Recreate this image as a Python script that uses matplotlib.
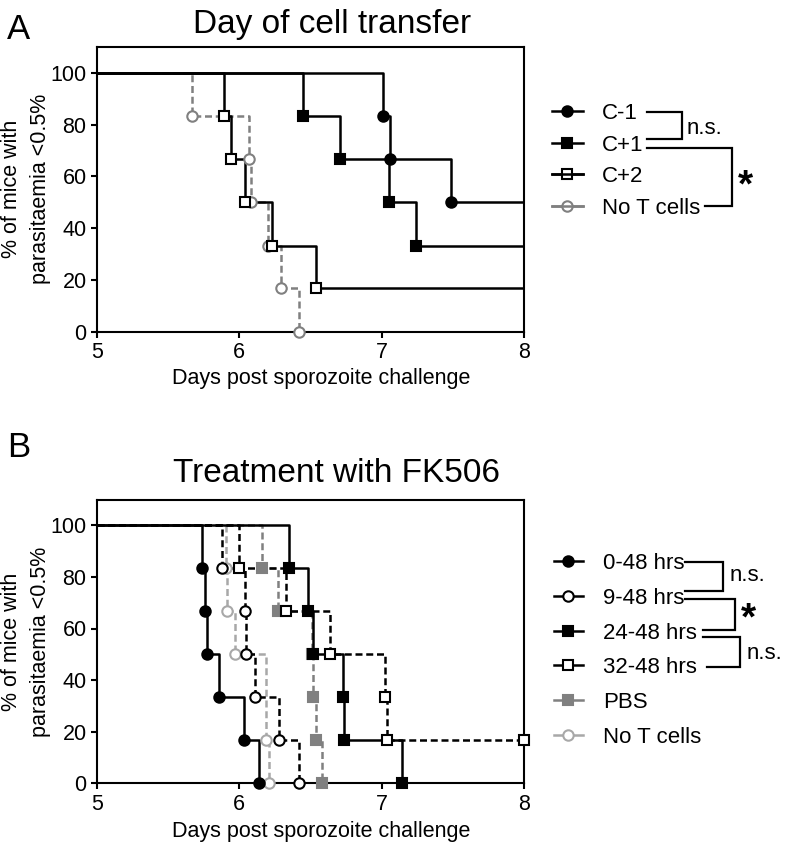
import matplotlib
matplotlib.use("Agg")
import matplotlib.pyplot as plt

plt.rcParams['font.family'] = ['Liberation Sans', 'DejaVu Sans']

# ---------------- data ----------------
x_ticks = [5, 6, 7, 8]
y_ticks = [0, 20, 40, 60, 80, 100]
x_label = "Days post sporozoite challenge"
y_label = "% of mice with\nparasitaemia <0.5%"

# Panel A: Day of cell transfer
a_title = "Day of cell transfer"
a_names = ["C-1", "C+1", "C+2", "No T cells"]
a_c_m1_t = [7.01, 7.06, 7.49]
a_c_m1_v = [83.3, 66.7, 50.0]
a_c_p1_t = [6.45, 6.71, 7.05, 7.24]
a_c_p1_v = [83.3, 66.7, 50.0, 33.3]
a_c_p2_t = [5.89, 5.94, 6.04, 6.23, 6.54]
a_c_p2_v = [83.3, 66.7, 50.0, 33.3, 16.7]
a_not_t = [5.67, 6.07, 6.08, 6.20, 6.29, 6.42]
a_not_v = [83.3, 66.7, 50.0, 33.3, 16.7, 0.0]

# Panel B: Treatment with FK506
b_title = "Treatment with FK506"
b_names = ["0-48 hrs", "9-48 hrs", "24-48 hrs", "32-48 hrs", "PBS", "No T cells"]
b_0_48_t = [5.74, 5.76, 5.77, 5.86, 6.03, 6.14]
b_0_48_v = [83.3, 66.7, 50.0, 33.3, 16.7, 0.0]
b_9_48_t = [5.88, 6.04, 6.05, 6.11, 6.28, 6.42]
b_9_48_v = [83.3, 66.7, 50.0, 33.3, 16.7, 0.0]
b_24_48_t = [6.35, 6.48, 6.52, 6.73, 6.735, 7.14]
b_24_48_v = [83.3, 66.7, 50.0, 33.3, 16.7, 0.0]
b_32_48_t = [6.00, 6.33, 6.64, 7.02, 7.04]
b_32_48_v = [83.3, 66.7, 50.0, 33.3, 16.7]
b_32_48_cens = [8.0]
b_pbs_t = [6.16, 6.27, 6.51, 6.52, 6.54, 6.58]
b_pbs_v = [83.3, 66.7, 50.0, 33.3, 16.7, 0.0]
b_not_t = [5.905, 5.91, 5.97, 6.19, 6.21]
b_not_v = [83.3, 66.7, 50.0, 16.7, 0.0]

# ---------------- styles ----------------
LW = 1.8
MS = 7.5
MEW = 1.5
DASH = (0, (2.8, 1.5))
GREY = '#808080'
LGREY = '#a8a8a8'

a_styles = [
    dict(color='black', marker='o', mfc='black', ls='-'),
    dict(color='black', marker='s', mfc='black', ls='-'),
    dict(color='black', marker='s', mfc='white', ls='-'),
    dict(color=GREY, marker='o', mfc='white', ls=DASH),
]
b_styles = [
    dict(color='black', marker='o', mfc='black', ls='-'),
    dict(color='black', marker='o', mfc='white', ls=DASH),
    dict(color='black', marker='s', mfc='black', ls='-'),
    dict(color='black', marker='s', mfc='white', ls=DASH),
    dict(color=GREY, marker='s', mfc=GREY, ls=DASH),
    dict(color=LGREY, marker='o', mfc='white', ls=DASH),
]

W, H = 789, 843
fig = plt.figure(figsize=(W / 100, H / 100), dpi=100)


def step_path(times, vals, x0=5, x1=8, start=100.0):
    xs, ys = [x0], [start]
    prev = start
    for t, v in zip(times, vals):
        xs += [t, t]
        ys += [prev, v]
        prev = v
    if prev > 0:
        xs.append(x1)
        ys.append(prev)
    return xs, ys


def setup_axes(rect):
    ax = fig.add_axes(rect)
    ax.set_xlim(5, 8)
    ax.set_ylim(0, 110)
    ax.set_xticks(x_ticks)
    ax.set_yticks(y_ticks)
    ax.tick_params(direction='out', length=4.5, width=1.5, labelsize=15.5, pad=3)
    for s in ax.spines.values():
        s.set_linewidth(1.5)
    return ax


def draw_series(ax, times, vals, st, cens=None):
    xs, ys = step_path(times, vals)
    ax.plot(xs, ys, color=st['color'], ls=st['ls'], lw=LW, zorder=2)
    ax.plot(times, vals, ls='none', marker=st['marker'], ms=MS, mfc=st['mfc'],
            mec=st['color'], mew=MEW, clip_on=False, zorder=3)
    if cens:
        ax.plot(cens, [vals[-1]] * len(cens), ls='none', marker=st['marker'], ms=MS,
                mfc=st['mfc'], mec=st['color'], mew=MEW, clip_on=False, zorder=3)


# axes rectangles from pixel layout
L = 97 / W
AW = 427 / W
axA = setup_axes([L, 1 - 331.7 / H, AW, 284.7 / H])
axB = setup_axes([L, 1 - 783.3 / H, AW, 283.8 / H])

a_series = [(a_c_m1_t, a_c_m1_v), (a_c_p1_t, a_c_p1_v), (a_c_p2_t, a_c_p2_v), (a_not_t, a_not_v)]
for i in [3, 0, 1, 2]:
    draw_series(axA, a_series[i][0], a_series[i][1], a_styles[i])

b_series = [(b_0_48_t, b_0_48_v), (b_9_48_t, b_9_48_v), (b_24_48_t, b_24_48_v),
            (b_32_48_t, b_32_48_v), (b_pbs_t, b_pbs_v), (b_not_t, b_not_v)]
for i in [5, 4, 0, 1, 2, 3]:
    draw_series(axB, b_series[i][0], b_series[i][1], b_styles[i],
                cens=b_32_48_cens if i == 3 else None)

# ---------------- overlay in pixel coordinates ----------------
ov = fig.add_axes([0, 0, 1, 1], zorder=10)
ov.set_xlim(0, W)
ov.set_ylim(H, 0)
ov.axis('off')
ov.patch.set_alpha(0)

# panel letters & titles
ov.text(7, 39, "A", fontsize=25, ha='left', va='baseline')
ov.text(7, 457, "B", fontsize=25, ha='left', va='baseline')
ov.text(332, 33, a_title, fontsize=24, ha='center', va='baseline')
ov.text(337, 482, b_title, fontsize=24, ha='center', va='baseline')

# axis labels
for dy in (0, 452.5):
    ov.text(321, 384 + dy, x_label, fontsize=15.5, ha='center', va='baseline')
    ov.text(26, 189 + dy, y_label, fontsize=15.5, ha='center', va='center',
            rotation=90, multialignment='center', linespacing=1.45)


def legend_entry(y, st, label, through=False, x0=552, x1=583, tx=602):
    ov.plot([x0, x1], [y, y], color=st['color'], lw=LW, zorder=1)
    ov.plot([(x0 + x1) / 2], [y], marker=st['marker'], ms=MS, mfc=st['mfc'],
            mec=st['color'], mew=MEW, zorder=2)
    if through:
        ov.plot([x0, x1], [y, y], color=st['color'], lw=LW, zorder=3)
    ov.text(tx, y, label, fontsize=16, ha='left', va='center_baseline')


def bracket(x0a, ya, xv, yb, x0b):
    ov.plot([x0a, xv, xv, x0b], [ya, ya, yb, yb], color='black', lw=1.6,
            solid_joinstyle='miter')


# Legend A
a_rows = [111, 142.7, 174.4, 206]
for i, (y, name) in enumerate(zip(a_rows, a_names)):
    legend_entry(y, a_styles[i], name, through=(i >= 2))
bracket(647, 111.5, 682, 138.5, 647)
ov.text(687, 125.5, "n.s.", fontsize=16, ha='left', va='center_baseline')
bracket(647, 147.5, 732, 205.5, 705)
ov.text(745, 196, "*", fontsize=28, ha='center', va='baseline', fontweight='bold')

# Legend B
b_rows = [561, 595.8, 630.6, 665.4, 700.2, 735]
for i, (y, name) in enumerate(zip(b_rows, b_names)):
    legend_entry(y, b_styles[i], name, x0=554, x1=583, tx=603)
bracket(685, 561.5, 723, 591, 685)
ov.text(730, 573, "n.s.", fontsize=16, ha='left', va='center_baseline')
bracket(685, 599, 735, 629.5, 703)
ov.text(748, 629, "*", fontsize=28, ha='center', va='baseline', fontweight='bold')
bracket(703, 637, 740, 667, 707)
ov.text(747, 651, "n.s.", fontsize=16, ha='left', va='center_baseline')

fig.savefig("out.png", dpi=100)
